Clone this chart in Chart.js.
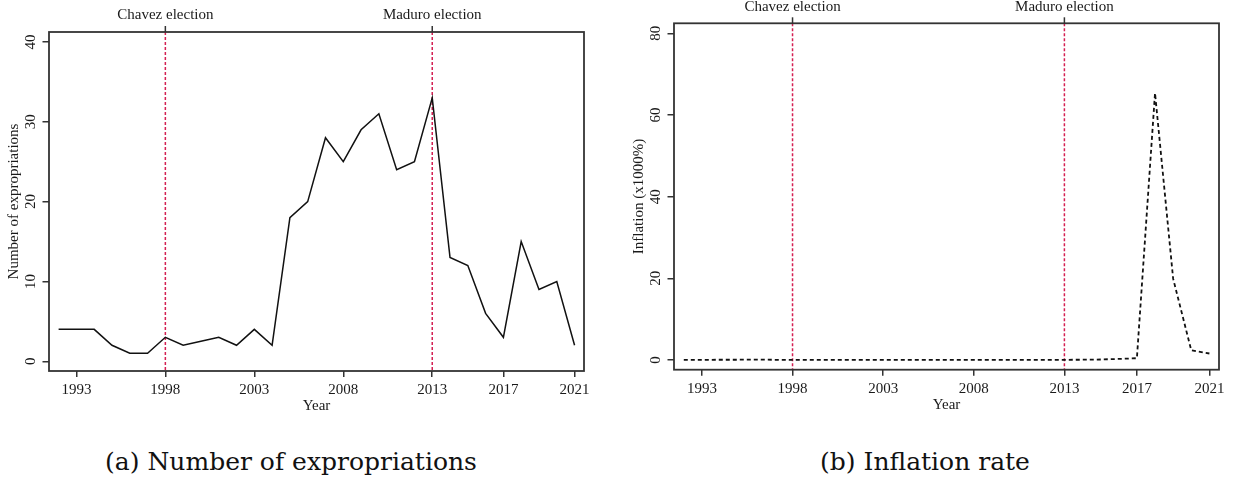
<!DOCTYPE html>
<html>
<head>
<meta charset="utf-8">
<title>Expropriations and inflation in Venezuela</title>
<script src="https://cdn.jsdelivr.net/npm/chart.js@4.4.1/dist/chart.umd.min.js"></script>
<style>
  html, body { margin: 0; padding: 0; background: #fff; }
  #page { position: relative; width: 1233px; height: 481px; overflow: hidden; }
  #page canvas { position: absolute; top: 0; }
  .caption {
    position: absolute; top: 447px; height: 30px; line-height: 30px;
    font-family: "DejaVu Serif", serif; font-size: 25px; color: #111;
    text-align: center; white-space: nowrap;
  }
</style>
</head>
<body>
<div id="page">
  <canvas id="expropChart" width="616" height="430" style="left:0;width:616px;height:430px"></canvas>
  <canvas id="inflChart" width="617" height="430" style="left:616px;width:617px;height:430px"></canvas>
  <div class="caption" style="left:91px;width:400px">(a) Number of expropriations</div>
  <div class="caption" style="left:725px;width:400px">(b) Inflation rate</div>
</div>
<script>
// Yearly series, 1992-2021
const YEARS = [1992, 1993, 1994, 1995, 1996, 1997, 1998, 1999, 2000, 2001,
               2002, 2003, 2004, 2005, 2006, 2007, 2008, 2009, 2010, 2011,
               2012, 2013, 2014, 2015, 2016, 2017, 2018, 2019, 2020, 2021];

// Number of expropriations per year
const EXPROPRIATIONS = [4, 4, 4, 2, 1, 1, 3, 2, 2.5, 3,
                        2, 4, 2, 18, 20, 28, 25, 29, 31, 24,
                        25, 33, 13, 12, 6, 3, 15, 9, 10, 2];

// Annual inflation, in thousands of percent
const INFLATION = [0.031, 0.038, 0.061, 0.060, 0.100, 0.050, 0.036, 0.024, 0.016, 0.013,
                   0.022, 0.031, 0.022, 0.016, 0.014, 0.019, 0.031, 0.029, 0.028, 0.026,
                   0.021, 0.041, 0.062, 0.122, 0.255, 0.438, 65.37, 19.91, 2.36, 1.59];

// Axis tick labels
const X_TICKS = [1993, 1998, 2003, 2008, 2013, 2017, 2021];
const EXPROP_Y_TICKS = [0, 10, 20, 30, 40];
const INFL_Y_TICKS = [0, 20, 40, 60, 80];

// Election markers
const ELECTION_YEARS = [1998, 2013];
const ELECTION_LABELS = ['Chavez election', 'Maduro election'];

const TEXT = '#1a1a1a';
const AXIS = '#333333';
const RED = '#d41f52';
const FONT = "'Liberation Serif', 'Times New Roman', serif";

Chart.defaults.font.family = FONT;
Chart.defaults.color = TEXT;

// Draws the R-style frame: box, election lines, rotated y labels and axis titles
function basePlot(opts) {
  return {
    id: 'basePlot',
    beforeDatasetsDraw(chart) {
      const { ctx, chartArea: a, scales: { x } } = chart;
      ctx.save();
      ctx.strokeStyle = RED;
      ctx.lineWidth = 1.5;
      ctx.setLineDash([3, 2]);
      ELECTION_YEARS.forEach(yr => {
        const px = x.getPixelForValue(yr);
        ctx.beginPath();
        ctx.moveTo(px, a.top);
        ctx.lineTo(px, a.bottom);
        ctx.stroke();
      });
      ctx.restore();
    },
    afterDraw(chart) {
      const { ctx, chartArea: a, scales: { x, y } } = chart;
      ctx.save();
      // box
      ctx.strokeStyle = AXIS;
      ctx.lineWidth = 1.8;
      ctx.strokeRect(a.left, a.top, a.right - a.left, a.bottom - a.top);

      ctx.fillStyle = TEXT;
      ctx.font = '15px ' + FONT;
      ctx.textAlign = 'center';
      ctx.textBaseline = 'middle';

      // election ticks and labels on the top edge
      ctx.lineWidth = 1.5;
      ELECTION_YEARS.forEach((yr, i) => {
        const px = x.getPixelForValue(yr);
        ctx.beginPath();
        ctx.moveTo(px, a.top - 6);
        ctx.lineTo(px, a.top);
        ctx.stroke();
        ctx.fillText(ELECTION_LABELS[i], px, a.top - 16.5);
      });

      // y tick labels, written upward
      y.ticks.forEach(t => {
        const py = y.getPixelForValue(t.value);
        ctx.save();
        ctx.translate(a.left - 17.5, py);
        ctx.rotate(-Math.PI / 2);
        ctx.fillText(String(t.value), 0, 0);
        ctx.restore();
      });

      // y axis title
      ctx.save();
      ctx.translate(a.left - 35, (a.top + a.bottom) / 2);
      ctx.rotate(-Math.PI / 2);
      ctx.fillText(opts.yTitle, 0, 0);
      ctx.restore();

      // x axis title
      ctx.fillText('Year', (a.left + a.right) / 2, a.bottom + 35);
      ctx.restore();
    }
  };
}

function makeChart(canvasId, cfg) {
  return new Chart(document.getElementById(canvasId), {
    type: 'line',
    data: {
      datasets: [{
        data: YEARS.map((yr, i) => ({ x: yr, y: cfg.values[i] })),
        borderColor: '#111',
        borderWidth: cfg.lineWidth,
        borderDash: cfg.dash,
        pointRadius: 0,
        tension: 0,
        fill: false
      }]
    },
    options: {
      responsive: false,
      devicePixelRatio: 1,
      animation: false,
      layout: { padding: cfg.padding },
      plugins: { legend: { display: false }, tooltip: { enabled: false } },
      scales: {
        x: {
          type: 'linear',
          min: 1991.46,
          max: 2021.53,
          afterBuildTicks: s => { s.ticks = X_TICKS.map(v => ({ value: v })); },
          afterFit: s => { s.height = 40; },
          ticks: {
            callback: v => String(v),
            font: { family: FONT, size: 15 },
            color: TEXT,
            padding: 4,
            autoSkip: false,
            maxRotation: 0
          },
          grid: { display: true, drawOnChartArea: false, drawTicks: true, tickLength: 6, color: AXIS, lineWidth: 1.5 },
          border: { display: false }
        },
        y: {
          type: 'linear',
          min: cfg.yMin,
          max: cfg.yMax,
          afterBuildTicks: s => { s.ticks = cfg.yTicks.map(v => ({ value: v })); },
          afterFit: s => { s.width = cfg.yWidth; },
          ticks: { display: false },
          grid: { display: true, drawOnChartArea: false, drawTicks: true, tickLength: 6.5, color: AXIS, lineWidth: 1.5 },
          border: { display: false }
        }
      }
    },
    plugins: [basePlot({ yTitle: cfg.yTitle })]
  });
}

makeChart('expropChart', {
  values: EXPROPRIATIONS,
  yTicks: EXPROP_Y_TICKS,
  yMin: -1.22,
  yMax: 41.25,
  yTitle: 'Number of expropriations',
  yWidth: 49,
  padding: { left: 0, top: 32, right: 32, bottom: 19 },
  lineWidth: 1.5,
  dash: []
});

makeChart('inflChart', {
  values: INFLATION,
  yTicks: INFL_Y_TICKS,
  yMin: -2.38,
  yMax: 82.45,
  yTitle: 'Inflation (x1000%)',
  yWidth: 58,
  padding: { left: 0, top: 23.3, right: 14, bottom: 20.3 },
  lineWidth: 1.8,
  dash: [4, 3]
});
</script>
</body>
</html>
